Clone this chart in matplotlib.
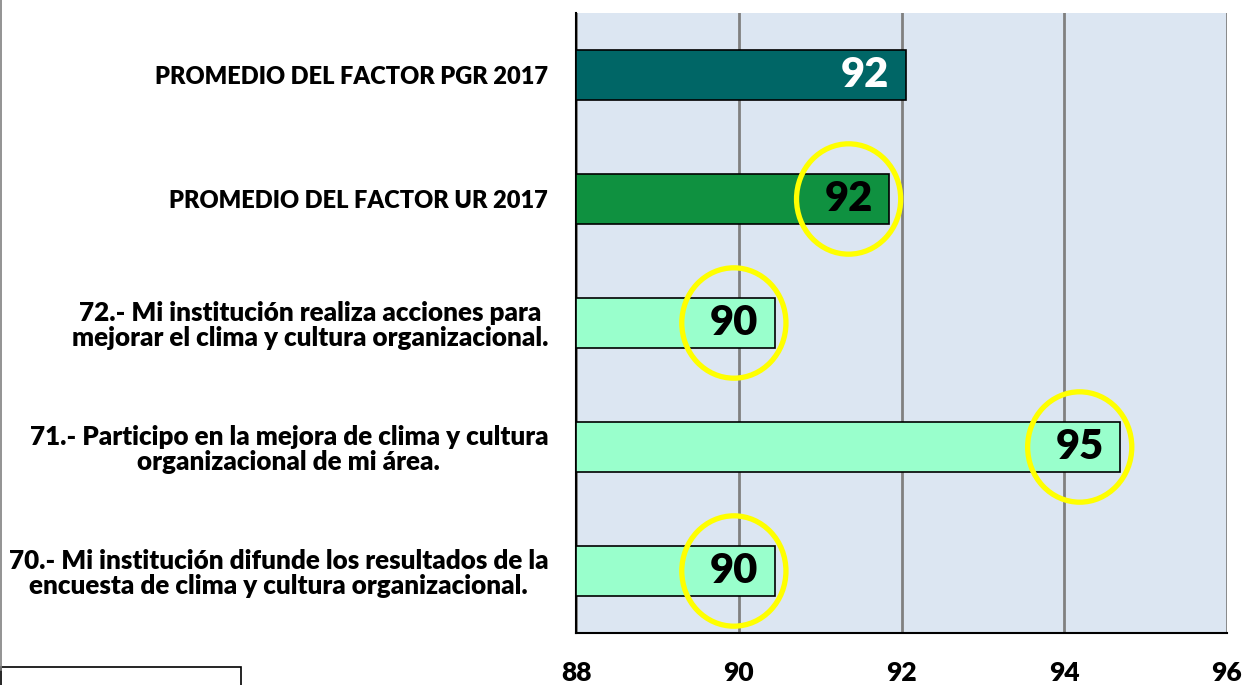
import numpy as np
import matplotlib.pyplot as plt
from matplotlib.patches import Ellipse, Rectangle

# ----------------------------
# Data (top to bottom)
# ----------------------------
categories = [
    "PROMEDIO DEL FACTOR PGR 2017",
    "PROMEDIO DEL FACTOR UR 2017",
    "72.- Mi institución realiza acciones para\nmejorar el clima y cultura organizacional.",
    "71.- Participo en la mejora de clima y cultura\norganizacional de mi área.",
    "70.- Mi institución difunde los resultados de la\nencuesta de clima y cultura organizacional.",
]
values = [92.05, 91.85, 90.44, 94.69, 90.44]
value_labels = ["92", "92", "90", "95", "90"]
circled = [False, True, True, True, True]
bar_colors = ["#006666", "#0F9140", "#99FFCC", "#99FFCC", "#99FFCC"]
label_colors = ["white", "black", "black", "black", "black"]
x_ticks = [88, 90, 92, 94, 96]

plt.rcParams['font.family'] = ['Lato', 'DejaVu Sans']

# ----------------------------
# Figure and axis setup
# ----------------------------
fig = plt.figure(figsize=(12.49, 6.85), dpi=100)
ax = fig.add_axes([576 / 1249, 52 / 685, 651 / 1249, 620 / 685])
ax.set_facecolor("#DCE6F2")

y = np.arange(len(categories))
ax.barh(y, np.array(values) - 88, left=88, height=0.4, color=bar_colors,
        edgecolor="black", linewidth=1.2, zorder=3)

ax.set_xlim(88, 96)
ax.set_ylim(len(categories) - 0.5, -0.5)
ax.set_xticks(x_ticks)
ax.set_xticklabels([str(t) for t in x_ticks], fontsize=19, fontweight="heavy")
ax.set_yticks(y)
ax.set_yticklabels(categories, fontweight="heavy", linespacing=1.05)
for lbl in ax.get_yticklabels():
    # lowercase lines are set a bit larger so they span like the original
    lbl.set_fontsize(17 if lbl.get_text().isupper() else 18.7)
    lbl.set_multialignment("center")
ax.tick_params(axis="x", length=0, pad=20)
ax.tick_params(axis="y", length=0, pad=20)

ax.grid(True, axis="x", color="#808080", linewidth=2, zorder=1)
ax.set_axisbelow(True)
for side in ["top", "right"]:
    ax.spines[side].set_visible(False)
ax.spines["left"].set_linewidth(1.5)
ax.spines["bottom"].set_linewidth(1.5)

# Value labels and yellow circles
for i, (v, lab) in enumerate(zip(values, value_labels)):
    xc = v - 0.5
    ax.text(xc, i, lab, ha="center", va="center", fontsize=30,
            fontweight="heavy", color=label_colors[i], zorder=5)
    if circled[i]:
        ax.add_patch(Ellipse((xc, i), 1.28, 0.89, fill=False,
                             edgecolor="#FFFF00", linewidth=3.8, zorder=6,
                             clip_on=False))

# Chart frame pieces at the left edge
fig.add_artist(plt.Line2D([0.0008, 0.0008], [685 / 685, 15 / 685],
                          transform=fig.transFigure, color="#808080", linewidth=1.2))
fig.add_artist(Rectangle((0.0008, -0.01), 240 / 1249, 25 / 685,
                         transform=fig.transFigure, fill=False,
                         edgecolor="black", linewidth=1.2))

fig.savefig("out.png", dpi=100)
